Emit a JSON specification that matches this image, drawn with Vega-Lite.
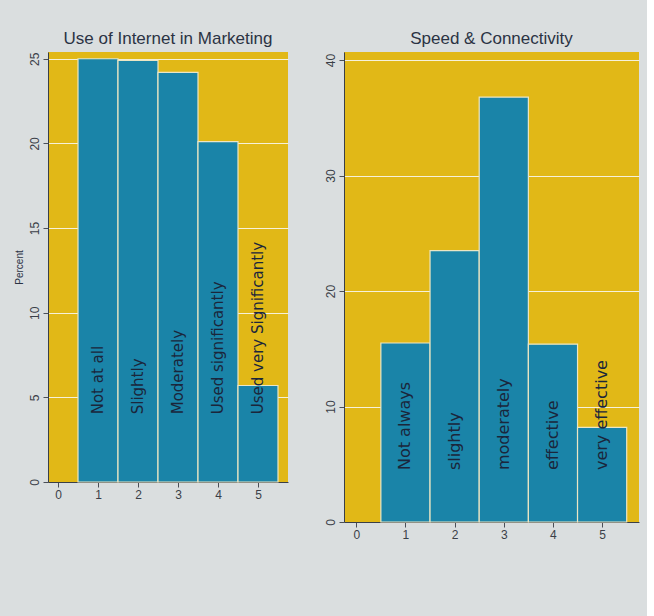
{
  "$schema": "https://vega.github.io/schema/vega-lite/v6.json",
  "background": "#dadedf",
  "padding": {"left": 14, "top": 30, "right": 8, "bottom": 76},
  "datasets": {
    "internet": [
      {"code": 1, "bin_start": 0.5, "bin_end": 1.5, "percent": 25.0, "label": "Not at all"},
      {"code": 2, "bin_start": 1.5, "bin_end": 2.5, "percent": 24.9, "label": "Slightly"},
      {"code": 3, "bin_start": 2.5, "bin_end": 3.5, "percent": 24.2, "label": "Moderately"},
      {"code": 4, "bin_start": 3.5, "bin_end": 4.5, "percent": 20.1, "label": "Used significantly"},
      {"code": 5, "bin_start": 4.5, "bin_end": 5.5, "percent": 5.7, "label": "Used very Significantly"}
    ],
    "speed": [
      {"code": 1, "bin_start": 0.5, "bin_end": 1.5, "percent": 15.5, "label": "Not always"},
      {"code": 2, "bin_start": 1.5, "bin_end": 2.5, "percent": 23.5, "label": "slightly"},
      {"code": 3, "bin_start": 2.5, "bin_end": 3.5, "percent": 36.8, "label": "moderately"},
      {"code": 4, "bin_start": 3.5, "bin_end": 4.5, "percent": 15.4, "label": "effective"},
      {"code": 5, "bin_start": 4.5, "bin_end": 5.5, "percent": 8.2, "label": "very effective"}
    ]
  },
  "spacing": 36,
  "hconcat": [
    {
      "width": 240,
      "height": 430,
      "title": "Use of Internet in Marketing",
      "data": {"name": "internet"},
      "layer": [
        {
          "mark": {"type": "bar", "color": "#1a84a8", "stroke": "#ebe6c4", "strokeWidth": 1.2},
          "encoding": {
            "x": {
              "field": "bin_start", "type": "quantitative",
              "scale": {"domain": [-0.25, 5.75], "nice": false, "zero": false},
              "axis": {"values": [0, 1, 2, 3, 4, 5], "title": null, "grid": false, "labelAngle": 0, "format": "d"}
            },
            "x2": {"field": "bin_end"},
            "y": {
              "field": "percent", "type": "quantitative",
              "scale": {"domain": [0, 25.4], "nice": false},
              "axis": {"values": [0, 5, 10, 15, 20, 25], "title": "Percent", "labelAngle": -90, "grid": true, "titleFontSize": 10}
            },
            "y2": {"datum": 0}
          }
        },
        {
          "mark": {"type": "text", "angle": 270, "align": "left", "baseline": "middle", "font": "DejaVu Sans", "fontSize": 15, "color": "#1b263b"},
          "encoding": {
            "x": {"field": "code", "type": "quantitative"},
            "y": {"datum": 4},
            "text": {"field": "label"}
          }
        }
      ]
    },
    {
      "width": 295,
      "height": 470,
      "title": "Speed & Connectivity",
      "data": {"name": "speed"},
      "layer": [
        {
          "mark": {"type": "bar", "color": "#1a84a8", "stroke": "#ebe6c4", "strokeWidth": 1.2},
          "encoding": {
            "x": {
              "field": "bin_start", "type": "quantitative",
              "scale": {"domain": [-0.25, 5.75], "nice": false, "zero": false},
              "axis": {"values": [0, 1, 2, 3, 4, 5], "title": null, "grid": false, "labelAngle": 0, "format": "d"}
            },
            "x2": {"field": "bin_end"},
            "y": {
              "field": "percent", "type": "quantitative",
              "scale": {"domain": [0, 40.7], "nice": false},
              "axis": {"values": [0, 10, 20, 30, 40], "title": null, "labelAngle": -90, "grid": true}
            },
            "y2": {"datum": 0}
          }
        },
        {
          "mark": {"type": "text", "angle": 270, "align": "left", "baseline": "middle", "font": "DejaVu Sans", "fontSize": 16, "color": "#1b263b"},
          "encoding": {
            "x": {"field": "code", "type": "quantitative"},
            "y": {"datum": 4.5},
            "text": {"field": "label"}
          }
        }
      ]
    }
  ],
  "config": {
    "view": {"fill": "#e1b817", "stroke": null},
    "axis": {
      "labelFont": "Liberation Sans", "labelColor": "#3a3f48", "labelFontSize": 12,
      "tickColor": "#4a4f58", "domainColor": "#3a3f48",
      "gridColor": "#f6f1da", "gridWidth": 1.2,
      "titleFont": "Liberation Sans", "titleFontWeight": "normal", "titleColor": "#2b3344"
    },
    "title": {"font": "Liberation Sans", "fontSize": 17, "fontWeight": "normal", "color": "#2b3344"}
  }
}
